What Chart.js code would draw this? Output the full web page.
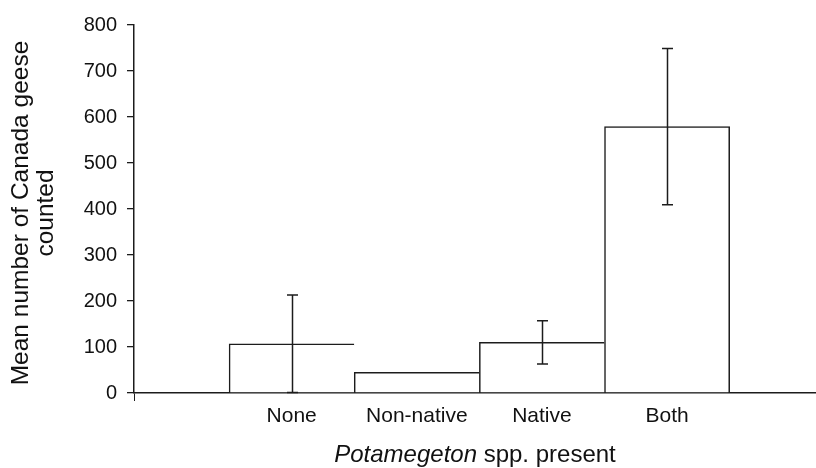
<!DOCTYPE html>
<html>
<head>
<meta charset="utf-8">
<script src="https://cdn.jsdelivr.net/npm/chart.js@4/dist/chart.umd.min.js"></script>
<style>
  html, body { margin: 0; padding: 0; background: #fff; }
</style>
</head>
<body>
<canvas id="goose" width="816" height="468"></canvas>
<script>
const categories = ["None", "Non-native", "Native", "Both"];
const means = [107, 45, 110, 579];
const errors = [106, 0, 47, 170];
const yTitle = ["Mean number of Canada geese", "counted"];
const xTitleItalic = "Potamegeton";
const xTitleRest = " spp. present";

const INK = "#1c1c1c";
const FONT = "'Liberation Sans', Arial, sans-serif";

// error bars + axis titles (x title mixes italic and roman text)
const extras = {
  id: "extras",
  afterDatasetsDraw(chart) {
    const { ctx, scales } = chart;
    ctx.save();
    ctx.strokeStyle = INK;
    ctx.lineWidth = 1.5;
    means.forEach((m, i) => {
      const e = errors[i];
      if (!e) return;
      const px = Math.round(scales.x.getPixelForValue(i + 1)) + 0.5;
      const top = scales.y.getPixelForValue(m + e);
      const bot = scales.y.getPixelForValue(Math.max(0, m - e));
      ctx.beginPath();
      ctx.moveTo(px, top);
      ctx.lineTo(px, bot);
      ctx.moveTo(px - 5.5, top);
      ctx.lineTo(px + 5.5, top);
      ctx.moveTo(px - 5.5, bot);
      ctx.lineTo(px + 5.5, bot);
      ctx.stroke();
    });
    ctx.restore();
  },
  afterDraw(chart) {
    const { ctx, chartArea } = chart;
    ctx.save();
    ctx.fillStyle = "#111";
    // y title, rotated
    ctx.translate(0, (chartArea.top + chartArea.bottom) / 2 + 4);
    ctx.rotate(-Math.PI / 2);
    ctx.font = "24.5px " + FONT;
    ctx.textAlign = "center";
    ctx.textBaseline = "alphabetic";
    ctx.fillText(yTitle[0], 0, 28);
    ctx.fillText(yTitle[1], 0, 53);
    ctx.restore();

    ctx.save();
    ctx.fillStyle = "#111";
    ctx.textBaseline = "alphabetic";
    ctx.textAlign = "left";
    ctx.font = "italic 24px " + FONT;
    const w1 = ctx.measureText(xTitleItalic).width;
    ctx.font = "24px " + FONT;
    const w2 = ctx.measureText(xTitleRest).width;
    const cx = (chartArea.left + chartArea.right) / 2;
    const sx = cx - (w1 + w2) / 2;
    ctx.font = "italic 24px " + FONT;
    ctx.fillText(xTitleItalic, sx, 462);
    ctx.font = "24px " + FONT;
    ctx.fillText(xTitleRest, sx + w1, 462);
    ctx.restore();
  }
};

new Chart(document.getElementById("goose"), {
  type: "bar",
  data: {
    datasets: [{
      data: means.map((m, i) => ({ x: i + 1, y: m })),
      backgroundColor: "#ffffff",
      borderColor: INK,
      borderWidth: (c) => ({ top: 1.5, left: 1.5, bottom: 0, right: c.dataIndex === categories.length - 1 ? 1.5 : 0 }),
      barPercentage: 1,
      categoryPercentage: 1
    }]
  },
  options: {
    responsive: false,
    devicePixelRatio: 1,
    animation: false,
    layout: { padding: { top: 25, right: 0, bottom: 0, left: 0 } },
    plugins: { legend: { display: false }, tooltip: { enabled: false } },
    scales: {
      x: {
        type: "linear",
        offset: false,
        min: -0.26,
        max: 5.19,
        afterBuildTicks: (s) => {
          s.ticks = [{ value: s.min }].concat(categories.map((c, i) => ({ value: i + 1 })));
        },
        afterFit: (s) => { s.height = 75; },
        border: { display: true, color: INK, width: 1.5 },
        grid: {
          offset: false,
          drawOnChartArea: false,
          tickLength: 8,
          color: (c) => (c.index === 0 ? INK : "rgba(0,0,0,0)")
        },
        ticks: {
          color: "#111",
          font: { family: FONT, size: 21 },
          padding: 3,
          maxRotation: 0,
          autoSkip: false,
          callback: (v) => categories[v - 1] || ""
        }
      },
      y: {
        min: 0,
        max: 800,
        afterFit: (s) => { s.width = 134; },
        border: { display: true, color: INK, width: 1.5 },
        grid: { drawOnChartArea: false, tickLength: 7, color: INK, lineWidth: 1.3 },
        ticks: {
          stepSize: 100,
          color: "#111",
          font: { family: FONT, size: 20 },
          padding: 10
        }
      }
    }
  },
  plugins: [extras]
});
</script>
</body>
</html>
